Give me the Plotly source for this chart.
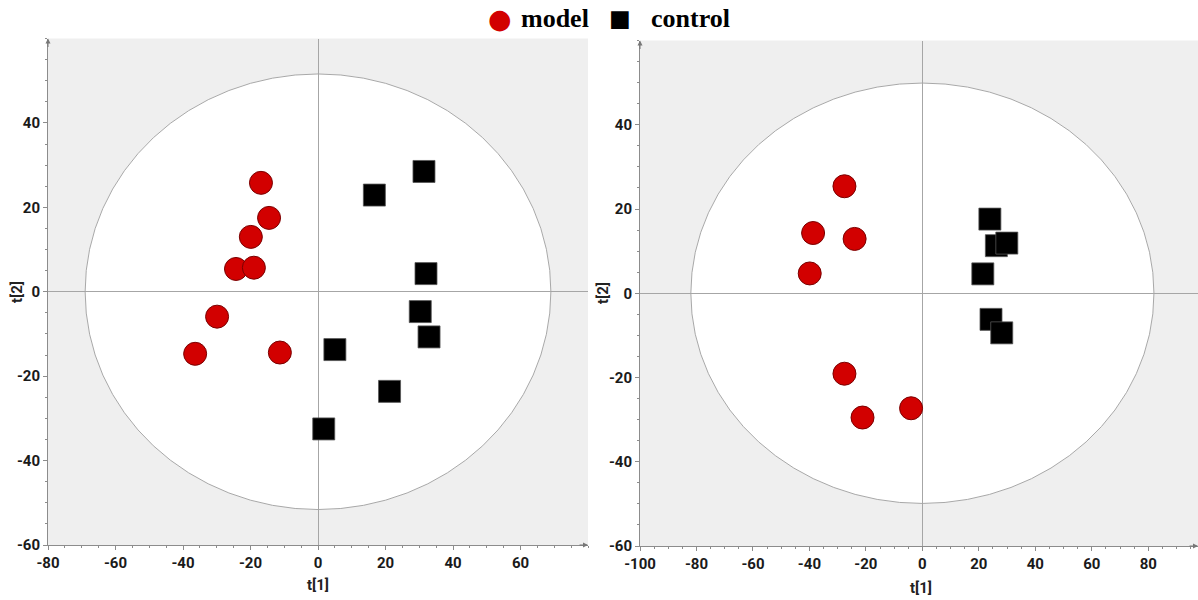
import plotly.graph_objects as go

# ---------------- data ----------------
model_left_x = [-16.9, -14.5, -19.9, -24.3, -19.0, -29.9, -36.4, -11.3]
model_left_y = [25.8, 17.5, 13.0, 5.4, 5.7, -5.9, -14.7, -14.4]
control_left_x = [31.4, 16.7, 32.0, 30.3, 32.9, 5.0, 21.2, 1.7]
control_left_y = [28.5, 22.9, 4.3, -4.7, -10.7, -13.7, -23.6, -32.5]

model_right_x = [-27.6, -38.7, -24.0, -39.9, -27.6, -21.2, -4.0]
model_right_y = [25.4, 14.3, 12.9, 4.7, -19.1, -29.5, -27.3]
control_right_x = [23.9, 26.2, 29.9, 21.4, 24.3, 28.1]
control_right_y = [17.6, 11.3, 11.9, 4.6, -6.2, -9.4]

# Hotelling T2 ellipse semi-axes (t[1], t[2])
ellipse_left = (69.0, 51.6)
ellipse_right = (82.0, 49.9)

x_ticks_left = [-80, -60, -40, -20, 0, 20, 40, 60]
x_ticks_right = [-100, -80, -60, -40, -20, 0, 20, 40, 60, 80]
y_ticks = [-60, -40, -20, 0, 20, 40]

series_names = ["model", "control"]

# ---------------- styles ----------------
MODEL_RED = "#d20000"
TICK_FONT = dict(family="Roboto, Liberation Sans, sans-serif", size=15, color="#1a1a1a", weight="bold")
AX_GRAY = "#8c8c8c"


def labels(vals):
    return [str(v) for v in vals]  # plain hyphen-minus as in the reference


fig = go.Figure()


def add_panel(mx, my, cx, cy, xa, ya):
    fig.add_trace(go.Scatter(
        x=mx, y=my, mode="markers", name=series_names[0],
        xaxis=xa, yaxis=ya, showlegend=False,
        marker=dict(symbol="circle", size=23, color=MODEL_RED,
                    line=dict(color="#7a0000", width=1))))
    fig.add_trace(go.Scatter(
        x=cx, y=cy, mode="markers", name=series_names[1],
        xaxis=xa, yaxis=ya, showlegend=False,
        marker=dict(symbol="square", size=22, color="#000000",
                    line=dict(color="#555555", width=0.8))))


add_panel(model_left_x, model_left_y, control_left_x, control_left_y, "x", "y")
add_panel(model_right_x, model_right_y, control_right_x, control_right_y, "x2", "y2")


def xaxis_cfg(domain, rng, ticks, anchor):
    return dict(domain=domain, range=rng, anchor=anchor, tickvals=ticks, ticktext=labels(ticks),
                showgrid=False, zeroline=True, zerolinecolor="#a6a6a6", zerolinewidth=1,
                showline=True, linecolor=AX_GRAY, linewidth=1, mirror=False,
                ticks="outside", ticklen=4, tickcolor=AX_GRAY, tickwidth=1,
                minor=dict(tick0=0, dtick=5, ticks="outside", ticklen=2, tickcolor=AX_GRAY),
                tickfont=TICK_FONT, automargin=False, fixedrange=True)


def yaxis_cfg(domain, ticks, anchor):
    return dict(domain=domain, range=[-60, 60], anchor=anchor, tickvals=ticks, ticktext=labels(ticks),
                showgrid=False, zeroline=True, zerolinecolor="#a6a6a6", zerolinewidth=1,
                showline=True, linecolor=AX_GRAY, linewidth=1, mirror=False,
                ticks="outside", ticklen=4, tickcolor=AX_GRAY, tickwidth=1,
                minor=dict(tick0=0, dtick=5, ticks="outside", ticklen=2, tickcolor=AX_GRAY),
                tickfont=TICK_FONT, automargin=False, fixedrange=True)


W, H = 1198, 600
fig.update_layout(
    width=W, height=H,
    margin=dict(l=0, r=0, t=0, b=0),
    paper_bgcolor="white", plot_bgcolor="#efefef",
    xaxis=xaxis_cfg([48 / W, 588 / W], [-80, 80], x_ticks_left, "y"),
    yaxis=yaxis_cfg([1 - 545 / H, 1 - 38.5 / H], y_ticks, "x"),
    xaxis2=xaxis_cfg([640 / W, 1.0], [-100, 97.6], x_ticks_right, "y2"),
    yaxis2=yaxis_cfg([1 - 546 / H, 1 - 40.5 / H], y_ticks, "x2"),
    showlegend=False,
)

# confidence ellipses (white interior over gray background)
for (rx, ry), xr, yr in [(ellipse_left, "x", "y"), (ellipse_right, "x2", "y2")]:
    fig.add_shape(type="circle", xref=xr, yref=yr, x0=-rx, x1=rx, y0=-ry, y1=ry,
                  fillcolor="white", line=dict(color="#a8a8a8", width=1), layer="below")

# legend at the top (glyph + bold serif label)
LEG_FONT = dict(family="Liberation Serif, Times New Roman, serif", size=26, color="#000", weight="bold")
legend_items = [
    ("\u25CF", MODEL_RED, 27, 500, series_names[0], 519),
    ("\u25A0", "#000000", 23, 620, series_names[1], 649),
]
for glyph, col, gsize, gx, name, tx in legend_items:
    fig.add_annotation(text=glyph, xref="paper", yref="paper", x=gx / W, y=1 - 18 / H,
                       xanchor="center", yanchor="middle", showarrow=False,
                       font=dict(family="DejaVu Sans, sans-serif", size=gsize, color=col))
    fig.add_annotation(text=name, xref="paper", yref="paper", x=tx / W, y=1 - 18 / H,
                       xanchor="left", yanchor="middle", showarrow=False, font=LEG_FONT)

# axis titles
title_font = dict(family="Roboto, Liberation Sans, sans-serif", size=15, color="#222", weight="bold")
for txt, px, py, ang in [("t[1]", 318, 585, 0), ("t[1]", 921, 588, 0),
                         ("t[2]", 17, 292, -90), ("t[2]", 603, 293, -90)]:
    fig.add_annotation(text=txt, xref="paper", yref="paper", x=px / W, y=1 - py / H,
                       xanchor="center", yanchor="middle", showarrow=False,
                       font=title_font, textangle=ang)

# axis arrowheads
for xr, yr in [("x", "y"), ("x2", "y2")]:
    fig.add_annotation(x=1, y=0, xref=xr + " domain", yref=yr + " domain", ax=-10, ay=0,
                       showarrow=True, arrowhead=2, arrowsize=1, arrowwidth=1, arrowcolor="#777", text="")
    fig.add_annotation(x=0, y=1, xref=xr + " domain", yref=yr + " domain", ax=0, ay=10,
                       showarrow=True, arrowhead=2, arrowsize=1, arrowwidth=1, arrowcolor="#777", text="")

fig.write_html("out.html")
